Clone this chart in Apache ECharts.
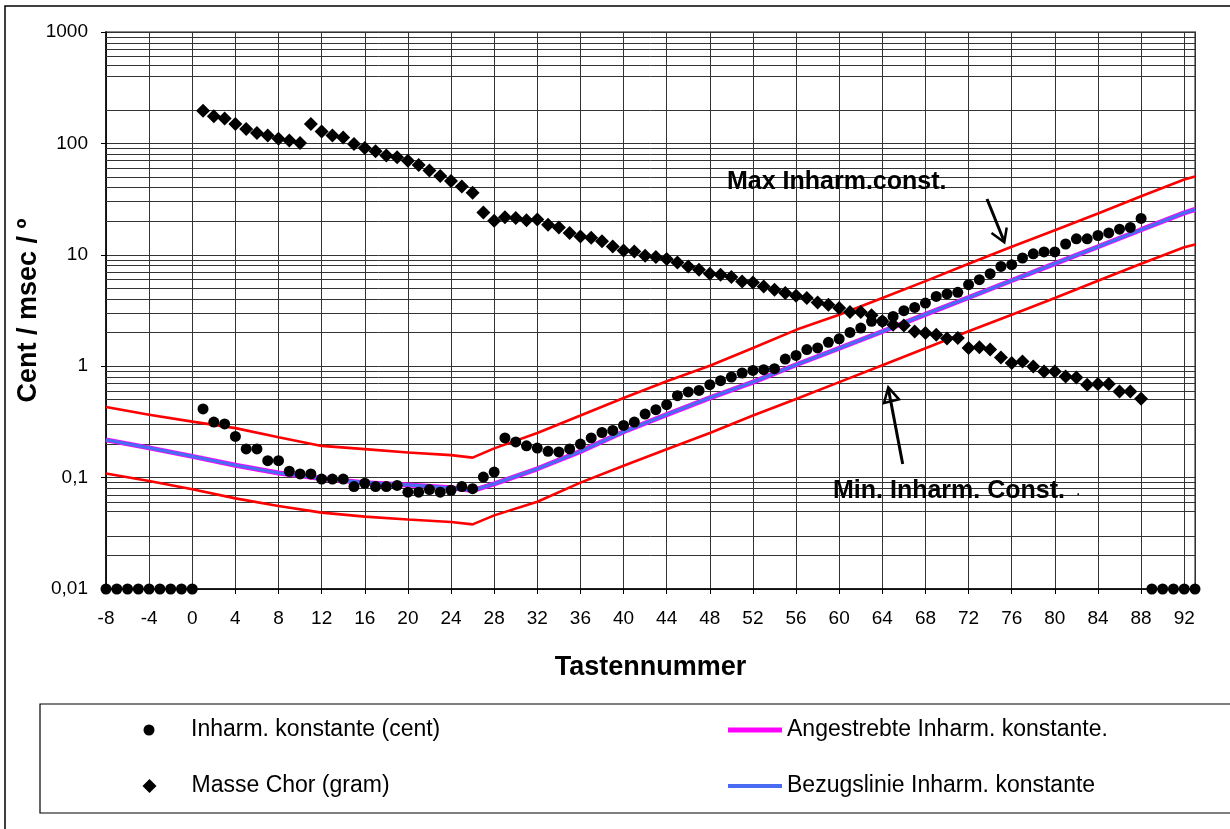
<!DOCTYPE html>
<html><head><meta charset="utf-8">
<script src="https://cdn.jsdelivr.net/npm/echarts@6/dist/echarts.min.js"></script>
<style>html,body{margin:0;padding:0;background:#fff}#c{width:1230px;height:829px}</style>
</head><body><div id="c"></div>
<script>
// ---- data ----
const yTickLabels = ['0,01', '0,1', '1', '10', '100', '1000'];
// minor horizontal grid lines as drawn in the reference (300, 0.4 and 0.04 are absent there)
const yMinorGrid = [0.02,0.03,0.05,0.06,0.07,0.08,0.09, 0.2,0.3,0.5,0.6,0.7,0.8,0.9,
  2,3,4,5,6,7,8,9, 20,30,40,50,60,70,80,90, 200,400,500,600,700,800,900];

// Inharm. konstante (cent), keys -8 .. 93
const inharmStart = -8;
const inharmValues = [
  0.01,0.01,0.01,0.01,0.01,0.01,0.01,0.01,0.01,
  0.413,0.315,0.303,0.234,0.181,0.181,0.142,0.142,0.114,0.108,
  0.108,0.097,0.097,0.097,0.083,0.089,0.083,0.083,0.085,0.074,
  0.074,0.078,0.074,0.077,0.083,0.0795,0.101,0.112,0.227,0.209,
  0.193,0.184,0.172,0.17,0.181,0.2,0.227,0.254,0.265,0.294,
  0.315,0.372,0.407,0.451,0.544,0.587,0.606,0.682,0.741,0.80,
  0.869,0.917,0.93,0.95,1.16,1.25,1.41,1.46,1.64,1.76,
  2.01,2.2,2.53,2.53,2.8,3.15,3.37,3.69,4.23,4.45,
  4.6,5.39,5.98,6.77,7.87,8.15,9.36,10.2,10.6,10.6,
  12.5,13.9,13.9,14.9,15.7,17.0,17.6,21.2,
  0.01,0.01,0.01,0.01,0.01
];

// Masse Chor (gram), keys 1 .. 88
const masseStart = 1;
const masseValues = [
  196,175,167,149,135,124,118,110,106,101,
  149,128,118,113,99,91,85,78,75,70,
  64,57,51,46,41,36,24,20.2,21.7,21.4,
  20.4,20.7,18.6,17.6,15.7,14.6,14.2,13.2,11.9,10.95,
  10.7,9.8,9.55,9.17,8.55,7.87,7.35,6.77,6.63,6.32,
  5.77,5.65,5.2,4.86,4.54,4.29,4.09,3.74,3.56,3.33,
  3.07,3.07,2.86,2.53,2.36,2.32,2.05,1.99,1.92,1.77,
  1.79,1.46,1.48,1.41,1.2,1.07,1.1,0.996,0.898,0.898,
  0.81,0.793,0.682,0.692,0.692,0.594,0.594,0.511
];

// reference lines, read at these keys
const lineKeys = [-8,-4,0,4,8,12,16,20,24,26,28,32,36,40,44,48,52,56,60,64,68,72,76,80,84,88,92,93];
const angestrebteValues = [0.218,0.185,0.155,0.129,0.11,0.098,0.09,0.086,0.081,0.0765,0.088,0.12,0.172,0.258,0.368,0.52,0.72,1.03,1.45,2.05,2.92,4.14,5.88,8.34,11.8,16.8,23.8,25.5];
const bezugValues     = [0.218,0.185,0.155,0.129,0.11,0.098,0.09,0.086,0.081,0.0765,0.088,0.12,0.172,0.258,0.368,0.52,0.72,1.03,1.45,2.05,2.92,4.14,5.88,8.34,11.8,16.8,23.8,25.5];
const maxValues = [0.43,0.367,0.318,0.278,0.23,0.1925,0.18,0.168,0.159,0.151,0.183,0.2515,0.3605,0.519,0.733,1.01,1.457,2.12,2.9,4.1,5.8,8.3,11.8,16.6,23.5,33.5,47.5,50.5];
const minValues = [0.109,0.0932,0.0786,0.0651,0.0555,0.0485,0.0446,0.0421,0.0399,0.038,0.0458,0.0607,0.0901,0.1276,0.18,0.2515,0.3605,0.508,0.72,1.02,1.45,2.06,2.9,4.1,5.85,8.3,11.7,12.4];

const names = ['Inharm. konstante (cent)', 'Masse Chor (gram)', 'Angestrebte Inharm. konstante.', 'Bezugslinie Inharm. konstante'];

// ---- build ----
const pairs = (start, vals) => vals.map((v, i) => [start + i, v]);
const linePairs = vals => vals.map((v, i) => [lineKeys[i], v]);

const FONT = '"Liberation Sans", Arial, sans-serif';
const chart = echarts.init(document.getElementById('c'), null, { renderer: 'canvas' });

const legendBase = {
  orient: 'horizontal', padding: 0, itemGap: 0, selectedMode: false, symbolKeepAspect: true,
  textStyle: { fontFamily: FONT, fontSize: 23, color: '#000', lineHeight: 26 }
};

chart.setOption({
  animation: false,
  backgroundColor: '#fff',
  textStyle: { fontFamily: FONT },
  grid: { left: 106, right: 35, top: 32, bottom: 240, show: true, borderColor: '#888', borderWidth: 2, containLabel: false },
  xAxis: {
    type: 'value', min: -8, max: 93, interval: 4,
    name: 'Tastennummer', nameLocation: 'middle', nameGap: 65,
    nameTextStyle: { fontFamily: FONT, fontSize: 27, fontWeight: 'bold', color: '#000' },
    axisLine: { show: true, onZero: false, lineStyle: { color: '#000', width: 1.5 } },
    axisTick: { show: true, inside: false, length: 5, lineStyle: { color: '#000' } },
    axisLabel: { fontFamily: FONT, fontSize: 19, color: '#000', margin: 20, formatter: v => (v === 93 ? '' : String(v)) },
    splitLine: { show: true, lineStyle: { color: '#333', width: 1 } }
  },
  yAxis: {
    type: 'log', logBase: 10, min: 0.01, max: 1000,
    name: 'Cent / msec / º', nameLocation: 'middle', nameGap: 64, nameMoveOverlap: false,
    nameTextStyle: { fontFamily: FONT, fontSize: 27, fontWeight: 'bold', color: '#000' },
    axisLine: { show: true, onZero: false, lineStyle: { color: '#000', width: 1.5 } },
    axisTick: { show: true, inside: false, length: 5, lineStyle: { color: '#000' } },
    axisLabel: {
      fontFamily: FONT, fontSize: 19, color: '#000', margin: 18,
      formatter: v => { const i = Math.round(Math.log10(v)) + 2; return yTickLabels[i] !== undefined ? yTickLabels[i] : ''; }
    },
    splitLine: { show: true, lineStyle: { color: '#333', width: 1 } }
  },
  legend: [
    Object.assign({}, legendBase, { data: [names[0]], icon: 'circle', left: 143.5, top: 717, itemWidth: 74, itemHeight: 11 }),
    Object.assign({}, legendBase, { data: [names[1]], icon: 'path://M7,0L14,7L7,14L0,7Z', left: 142.5, top: 773, itemWidth: 74, itemHeight: 14 }),
    Object.assign({}, legendBase, { data: [names[2]], icon: 'rect', left: 728, top: 717, itemWidth: 54, itemHeight: 5 }),
    Object.assign({}, legendBase, { data: [names[3]], icon: 'rect', left: 728, top: 773, itemWidth: 54, itemHeight: 4 })
  ],
  series: [
    {
      name: 'Min. Inharm. Const.', type: 'line', data: linePairs(minValues), symbol: 'none', z: 2,
      lineStyle: { color: '#ff0000', width: 2.6 }, itemStyle: { color: '#ff0000' },
      markLine: { silent: true, z: 1, symbol: ['none', 'none'], label: { show: false }, animation: false,
        lineStyle: { color: '#333', width: 1, type: 'solid' }, emphasis: { disabled: true },
        data: yMinorGrid.map(v => ({ yAxis: v })) }
    },
    { name: 'Max Inharm.const.', type: 'line', data: linePairs(maxValues), symbol: 'none', z: 2,
      lineStyle: { color: '#ff0000', width: 2.6 }, itemStyle: { color: '#ff0000' } },
    { name: names[2], type: 'line', data: linePairs(angestrebteValues), symbol: 'none', z: 3,
      lineStyle: { color: '#ff00ff', width: 5 }, itemStyle: { color: '#ff00ff' } },
    { name: names[3], type: 'line', data: linePairs(bezugValues), symbol: 'none', z: 4,
      lineStyle: { color: '#4a6cf2', width: 3.2 }, itemStyle: { color: '#4a6cf2' } },
    { name: names[1], type: 'scatter', data: pairs(masseStart, masseValues), symbol: 'diamond', symbolSize: 14, z: 5,
      itemStyle: { color: '#000', opacity: 1 }, clip: false },
    { name: names[0], type: 'scatter', data: pairs(inharmStart, inharmValues), symbol: 'circle', symbolSize: 11, z: 6,
      itemStyle: { color: '#000', opacity: 1 }, clip: false }
  ],
  graphic: [
    { type: 'rect', shape: { x: 5, y: 6, width: 1400, height: 1000 }, style: { fill: 'none', stroke: '#000', lineWidth: 1.5 }, silent: true, z: 0 },
    { type: 'rect', shape: { x: 40, y: 704, width: 1400, height: 109 }, style: { fill: 'none', stroke: '#000', lineWidth: 1.2 }, silent: true, z: 0 },
    { type: 'text', x: 727, y: 182, style: { text: 'Max Inharm.const.', font: 'bold 25px ' + FONT, fill: '#000', verticalAlign: 'middle' }, z: 10 },
    { type: 'text', x: 833, y: 491, style: { text: 'Min. Inharm. Const.', font: 'bold 25px ' + FONT, fill: '#000', verticalAlign: 'middle' }, z: 10 },
    { type: 'text', x: 1076, y: 491, style: { text: '.', font: '16px ' + FONT, fill: '#000', verticalAlign: 'middle' }, z: 10 },
    { type: 'polyline', shape: { points: [[987, 199], [1004, 241]] }, style: { stroke: '#000', lineWidth: 3, fill: null }, z: 10 },
    { type: 'polyline', shape: { points: [[991.5, 233], [1004.3, 242.3], [1006.7, 227.5]] }, style: { stroke: '#000', lineWidth: 2.5, fill: null }, z: 10 },
    { type: 'polyline', shape: { points: [[902.7, 464], [888.6, 390]] }, style: { stroke: '#000', lineWidth: 3, fill: null }, z: 10 },
    { type: 'polygon', shape: { points: [[884, 403], [888.3, 387.3], [899, 399.3]] }, style: { stroke: '#000', lineWidth: 2.5, fill: 'none' }, z: 10 }
  ]
});
</script></body></html>
